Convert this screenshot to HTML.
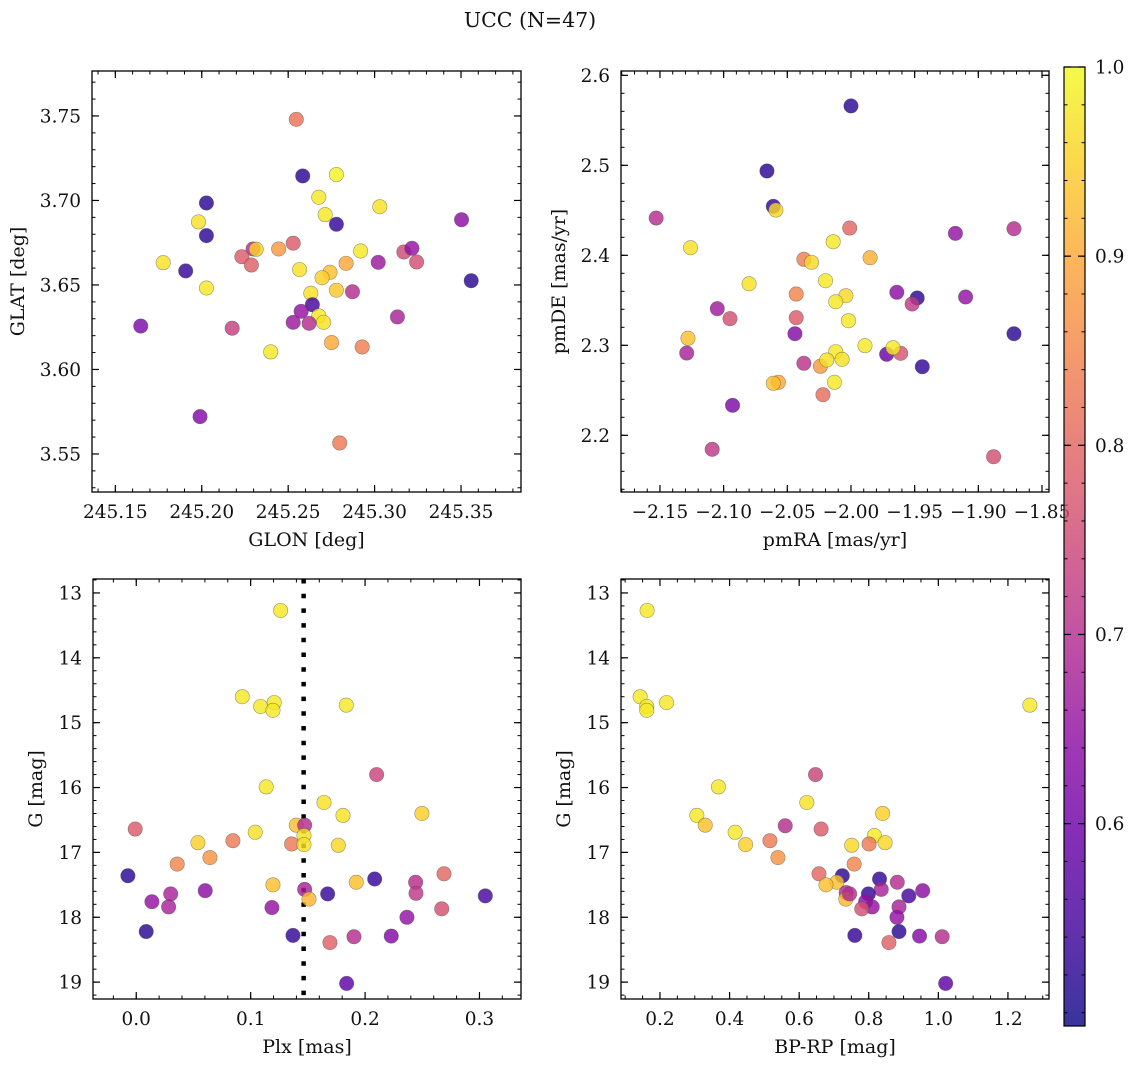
<!DOCTYPE html>
<html><head><meta charset="utf-8"><style>
html,body{margin:0;padding:0;background:#fff;}
svg{display:block;}
text{font-family:"DejaVu Serif","Liberation Serif",serif;fill:#111;}
</style></head><body>
<svg id="fig" width="1136" height="1067" viewBox="0 0 1136 1067" xmlns="http://www.w3.org/2000/svg">
<text x="530" y="27" font-size="20.5" text-anchor="middle">UCC (N=47)</text>
</svg>
<script>
const glon=[245.2547,245.2584,245.2779,245.2027,245.2677,245.3030,245.2714,245.2779,245.1981,245.2027,245.3503,245.2297,245.2315,245.2445,245.2529,245.2232,245.2287,245.1777,245.1907,245.2566,245.2742,245.2696,245.2835,245.2919,245.3021,245.3169,245.3216,245.3243,245.3559,245.2027,245.2631,245.2779,245.2872,245.2640,245.2575,245.2677,245.2705,245.2529,245.2621,245.3132,245.1647,245.2176,245.2751,245.2928,245.2399,245.1990,245.2798];
const glat=[3.748,3.7145,3.7153,3.6985,3.7019,3.6963,3.6916,3.6859,3.6873,3.6792,3.6886,3.6713,3.6711,3.6713,3.6747,3.6667,3.6618,3.6632,3.6583,3.6591,3.6575,3.6543,3.6628,3.6701,3.6634,3.6695,3.6717,3.6636,3.6525,3.6482,3.6451,3.6469,3.6460,3.6383,3.6344,3.6317,3.6279,3.6279,3.6273,3.6311,3.6257,3.6244,3.6159,3.6133,3.6104,3.5721,3.5565];
const prob1=[.82,.52,.99,.52,.98,.97,.98,.53,.97,.52,.64,.70,.95,.88,.78,.78,.79,.97,.53,.97,.93,.95,.90,.98,.66,.75,.65,.76,.52,.98,.97,.94,.70,.55,.65,.98,.97,.66,.70,.68,.62,.73,.90,.84,.98,.63,.83];
const pmra=[-2.000,-2.066,-2.061,-2.059,-2.153,-2.001,-1.918,-1.872,-2.126,-2.014,-1.985,-2.037,-2.031,-2.080,-2.020,-2.043,-2.004,-2.012,-1.964,-1.948,-1.952,-1.910,-2.105,-2.095,-2.043,-2.002,-2.044,-1.872,-2.128,-1.989,-2.129,-2.012,-1.972,-1.961,-1.967,-2.037,-2.024,-2.019,-2.007,-1.944,-2.057,-2.061,-2.013,-2.022,-2.093,-2.109,-1.888];
const pmde=[2.566,2.4937,2.4544,2.4503,2.4414,2.4303,2.4244,2.4296,2.4084,2.4151,2.3973,2.3956,2.3922,2.3684,2.3718,2.3570,2.3551,2.3484,2.3589,2.3526,2.3459,2.3537,2.3407,2.3296,2.3307,2.3273,2.3129,2.3129,2.3078,2.2996,2.2914,2.2929,2.29,2.2911,2.2973,2.28,2.2767,2.2837,2.2844,2.2762,2.2589,2.2578,2.2589,2.2451,2.2333,2.1844,2.1762];
const prob2=[.52,.52,.53,.96,.70,.80,.65,.70,.97,.98,.91,.84,.96,.97,.98,.85,.96,.98,.64,.52,.72,.65,.67,.76,.78,.98,.63,.52,.93,.98,.68,.98,.60,.77,.98,.71,.88,.97,.97,.53,.90,.93,.98,.81,.62,.72,.76];
const plx=[.1262,.0927,.1087,.1206,.1195,.1836,.2101,.1136,.1641,.1807,.2497,-.0009,.1399,.1472,.1040,.1466,.0845,.0539,.1358,.1466,.1766,.0644,.0358,.2690,-.0073,.2084,.2442,.1923,.1195,.0603,.1472,.0301,.1673,.2445,.3051,.1510,.0137,.0283,.1186,.2670,.2366,.0087,.1370,.1693,.1903,.2229,.1839];
const gmag3=[13.27,14.60,14.75,14.69,14.81,14.73,15.80,15.99,16.23,16.43,16.40,16.64,16.58,16.58,16.69,16.74,16.82,16.85,16.87,16.88,16.89,17.08,17.18,17.33,17.36,17.41,17.46,17.46,17.50,17.59,17.57,17.64,17.64,17.63,17.67,17.72,17.76,17.84,17.85,17.87,18.00,18.22,18.28,18.39,18.30,18.29,19.02];
const prob3=[.98,.98,.98,.98,.98,.98,.74,.98,.97,.97,.95,.78,.93,.70,.97,.97,.83,.95,.83,.97,.96,.87,.85,.80,.52,.53,.70,.93,.93,.64,.68,.68,.53,.72,.55,.92,.65,.68,.65,.76,.65,.52,.53,.79,.70,.63,.58];
const bprp=[.163,.143,.162,.162,.219,1.263,.647,.368,.622,.840,.306,.330,.560,.663,.416,.816,.516,.446,.847,.751,.801,.539,.758,.657,.724,.831,.882,.708,.677,.955,.735,.836,.799,.915,.734,.791,.887,.810,.780,.881,.887,.760,.858,1.011,.946,1.021,.745];
const gmag4=[13.27,14.60,14.75,14.81,14.69,14.73,15.80,15.99,16.23,16.40,16.43,16.58,16.59,16.64,16.69,16.74,16.82,16.88,16.85,16.89,16.87,17.08,17.18,17.33,17.36,17.41,17.46,17.46,17.50,17.59,17.62,17.57,17.64,17.67,17.72,17.76,17.84,17.84,17.87,18.00,18.22,18.28,18.39,18.30,18.29,19.02,17.64];
const prob4=[.98,.98,.98,.98,.98,.98,.74,.98,.97,.95,.98,.93,.70,.78,.98,.98,.83,.95,.96,.96,.83,.87,.85,.80,.52,.53,.70,.93,.93,.64,.70,.68,.53,.55,.92,.65,.68,.65,.76,.65,.52,.53,.79,.70,.63,.58,.70];
const plxLine=[0.1463];
const cbarTicks=[0.6,0.7,0.8,0.9,1.0];
const cmin=0.493, cmax=1.0;

const NS="http://www.w3.org/2000/svg";
const svg=document.getElementById('fig');
function mk(tag,attrs,parent){const e=document.createElementNS(NS,tag);for(const k in attrs)e.setAttribute(k,attrs[k]);(parent||svg).appendChild(e);return e;}
const stops=[[13,8,135],[65,4,157],[106,0,168],[143,13,164],[177,42,144],[204,71,120],[225,100,98],[242,132,75],[252,166,54],[252,206,37],[240,249,33]];
function plasma(t){t=Math.max(0,Math.min(1,t))*10;const i=Math.min(9,Math.floor(t)),f=t-i;const a=stops[i],b=stops[i+1];return 'rgb('+a.map((v,k)=>Math.round(v+(b[k]-v)*f)).join(',')+')';}
function cnorm(p){return (p-cmin)/(cmax-cmin);}
function fmt(v,d){const s=v.toFixed(d);return s.replace('-','\u2212');}
const TF=18.5, LF=19;

function panel(c){
  const g=mk('g',{});
  
  
  const sx=v=>c.px0+(v-c.xd[0])/(c.xd[1]-c.xd[0])*(c.px1-c.px0);
  const sy=v=>c.py0+(v-c.yd[0])/(c.yd[1]-c.yd[0])*(c.py1-c.py0);
  if(c.vline){c.vline.forEach(v=>{const l=mk('line',{x1:sx(v),x2:sx(v),y1:c.py0,y2:c.py1,stroke:'#000','stroke-width':4.5,'stroke-dasharray':'4.5 10.2'},g);
    
    });}
  for(let i=0;i<c.xs.length;i++){
    const ci=mk('circle',{cx:sx(c.xs[i]),cy:sy(c.ys[i]),r:7.2,fill:plasma(cnorm(c.ps[i])),'fill-opacity':0.82,stroke:'rgba(70,70,70,0.55)','stroke-width':0.6},g);
    
    
  }
  const fr=mk('rect',{x:c.px0,y:c.py0,width:c.px1-c.px0,height:c.py1-c.py0,fill:'none',stroke:'#000','stroke-width':1.3},g);
  
  
  const xlo=Math.min(...c.xd),xhi=Math.max(...c.xd),ylo=Math.min(...c.yd),yhi=Math.max(...c.yd);
  function ticks(lo,hi,step){const a=[];for(let k=Math.ceil(lo/step-1e-6);k*step<=hi+1e-9;k++)a.push(+(k*step).toFixed(6));return a;}
  ticks(xlo,xhi,c.xminor).forEach(v=>{const x=sx(v);mk('line',{x1:x,x2:x,y1:c.py1,y2:c.py1-3.5,stroke:'#000','stroke-width':1},g);mk('line',{x1:x,x2:x,y1:c.py0,y2:c.py0+3.5,stroke:'#000','stroke-width':1},g);});
  ticks(ylo,yhi,c.yminor).forEach(v=>{const y=sy(v);mk('line',{x1:c.px0,x2:c.px0+3.5,y1:y,y2:y,stroke:'#000','stroke-width':1},g);mk('line',{x1:c.px1,x2:c.px1-3.5,y1:y,y2:y,stroke:'#000','stroke-width':1},g);});
  ticks(xlo,xhi,c.xmajor).forEach(v=>{const x=sx(v);mk('line',{x1:x,x2:x,y1:c.py1,y2:c.py1-7,stroke:'#000','stroke-width':1.2},g);mk('line',{x1:x,x2:x,y1:c.py0,y2:c.py0+7,stroke:'#000','stroke-width':1.2},g);
    const t=mk('text',{x:x,y:c.py1+26,'font-size':TF,'text-anchor':'middle'},g);t.textContent=fmt(v,c.xdec);
    
    });
  ticks(ylo,yhi,c.ymajor).forEach(v=>{const y=sy(v);mk('line',{x1:c.px0,x2:c.px0+7,y1:y,y2:y,stroke:'#000','stroke-width':1.2},g);mk('line',{x1:c.px1,x2:c.px1-7,y1:y,y2:y,stroke:'#000','stroke-width':1.2},g);
    const t=mk('text',{x:c.px0-11,y:y+6.5,'font-size':TF,'text-anchor':'end'},g);t.textContent=fmt(v,c.ydec);
    
    });
  const xl=mk('text',{x:(c.px0+c.px1)/2,y:c.py1+54,'font-size':LF,'text-anchor':'middle'},g);xl.textContent=c.xlabel;
  
  
  const yc=(c.py0+c.py1)/2;
  const yl=mk('text',{x:c.ylx,y:yc,'font-size':LF,'text-anchor':'middle',transform:'rotate(-90 '+c.ylx+' '+yc+')'},g);yl.textContent=c.ylabel;
  
  
}

panel({name:'glon-glat-panel',px0:92,px1:521,py0:71,py1:492,xd:[245.1365,245.3847],yd:[3.7766,3.5275],xmajor:0.05,xminor:0.01,ymajor:0.05,yminor:0.01,xdec:2,ydec:2,xs:glon,ys:glat,ps:prob1,xlabel:'GLON [deg]',ylabel:'GLAT [deg]',ylx:24});
panel({name:'pm-panel',px0:621,px1:1049,py0:71,py1:492,xd:[-2.1806,-1.8445],yd:[2.6048,2.137],xmajor:0.05,xminor:0.01,ymajor:0.1,yminor:0.02,xdec:2,ydec:1,xs:pmra,ys:pmde,ps:prob2,xlabel:'pmRA [mas/yr]',ylabel:'pmDE [mas/yr]',ylx:565});
panel({name:'plx-g-panel',px0:93,px1:521,py0:579,py1:999,xd:[-0.0378,0.3363],yd:[12.785,19.26],xmajor:0.1,xminor:0.02,ymajor:1,yminor:0.2,xdec:1,ydec:0,xs:plx,ys:gmag3,ps:prob3,xlabel:'Plx [mas]',ylabel:'G [mag]',ylx:42,vline:plxLine});
panel({name:'cmd-panel',px0:621,px1:1049,py0:579,py1:999,xd:[0.088,1.318],yd:[12.785,19.26],xmajor:0.2,xminor:0.05,ymajor:1,yminor:0.2,xdec:1,ydec:0,xs:bprp,ys:gmag4,ps:prob4,xlabel:'BP-RP [mag]',ylabel:'G [mag]',ylx:570});

const cb=mk('g',{});


const defs=mk('defs',{},cb);
const lg=mk('linearGradient',{id:'cbg',x1:0,y1:1,x2:0,y2:0},defs);
for(let i=0;i<=20;i++){mk('stop',{offset:(i/20),'stop-color':plasma(i/20)},lg);}
const cx0=1064,cx1=1085,cy0=67,cy1=1026;
mk('rect',{x:cx0,y:cy0,width:cx1-cx0,height:cy1-cy0,fill:'url(#cbg)','fill-opacity':0.82},cb);
mk('rect',{x:cx0,y:cy0,width:cx1-cx0,height:cy1-cy0,fill:'none',stroke:'#000','stroke-width':1.2},cb);
const cy=v=>cy1-(v-cmin)/(cmax-cmin)*(cy1-cy0);
for(let k=25;k<=50;k++){const v=k*0.02;if(v<cmin)continue;const y=cy(v);mk('line',{x1:cx1,x2:cx1-3.5,y1:y,y2:y,stroke:'#000','stroke-width':1},cb);mk('line',{x1:cx0,x2:cx0+3.5,y1:y,y2:y,stroke:'#000','stroke-width':1},cb);}
cbarTicks.forEach(v=>{const y=cy(v);mk('line',{x1:cx1,x2:cx1-7,y1:y,y2:y,stroke:'#000','stroke-width':1.2},cb);mk('line',{x1:cx0,x2:cx0+7,y1:y,y2:y,stroke:'#000','stroke-width':1.2},cb);
  const t=mk('text',{x:cx1+10,y:y+6.5,'font-size':TF},cb);t.textContent=v.toFixed(1);
  
  });
</script>
</body></html>
